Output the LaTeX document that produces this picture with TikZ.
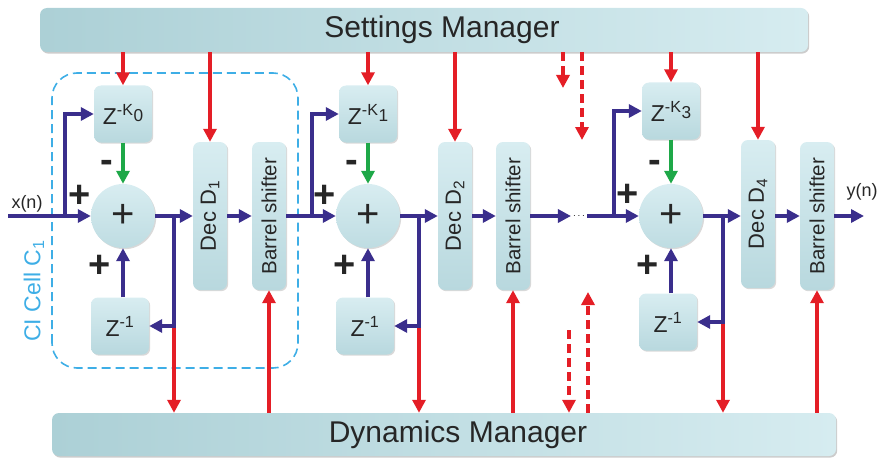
\documentclass[tikz,border=0pt]{standalone}
\usepackage{fontspec}
\setmainfont{Liberation Sans}
\usetikzlibrary{arrows.meta,shadows}
\definecolor{flowblue}{RGB}{58,46,140}
\definecolor{ctlred}{RGB}{228,30,38}
\definecolor{subgreen}{RGB}{30,168,72}
\definecolor{cellcyan}{RGB}{62,174,230}
\definecolor{boxtop}{RGB}{216,237,241}
\definecolor{boxbot}{RGB}{184,216,222}
\definecolor{mgrleft}{RGB}{172,208,214}
\definecolor{mgrright}{RGB}{214,236,240}
\definecolor{txt}{RGB}{38,38,38}
\newcommand{\zdel}[1]{Z\textsuperscript{-K}\raisebox{.1em}{\scalebox{.75}{#1}}}

\tikzset{
  blk/.style={rounded corners=7pt,top color=boxtop,bottom color=boxbot,text=txt,inner sep=0pt,
    drop shadow={shadow xshift=1.2pt,shadow yshift=-1.2pt,opacity=.3}},
  zbox/.style={blk,minimum width=58pt,minimum height=57pt,font=\fontsize{23}{26}\selectfont},
  decbox/.style={blk,minimum width=34pt,minimum height=148pt},
  mgr/.style={rounded corners=7pt,left color=mgrleft,right color=mgrright,text=txt,
    font=\fontsize{30}{32}\selectfont,
    drop shadow={shadow xshift=1.2pt,shadow yshift=-1.6pt,opacity=.4}},
  sum/.style={circle,minimum size=64pt,inner sep=0pt,top color=boxtop,bottom color=boxbot!80!boxtop,
    text=txt,font=\fontsize{40}{40}\selectfont,
    drop shadow={shadow xshift=1.2pt,shadow yshift=-1.2pt,opacity=.3}},
  sign/.style={inner sep=0pt,text=txt,font=\bfseries\fontsize{38}{38}\selectfont},
  flow/.style={draw=flowblue,line width=3.8pt},
  sub/.style={draw=subgreen,line width=3.8pt},
  ctl/.style={draw=ctlred,line width=3.6pt},
  lbl/.style={text=txt,font=\fontsize{18}{20}\selectfont}
}

\begin{document}
\begin{tikzpicture}[x=1pt,y=1pt,>={Triangle[length=13pt,width=13pt]}]
\useasboundingbox (0,0) rectangle (881,459);

% CI cell frame
\draw[cellcyan,line width=1.6pt,dash pattern=on 9pt off 5pt,rounded corners=25pt] (52,91) rectangle (298,386);
\node[rotate=90,text=cellcyan,font=\fontsize{23}{25}\selectfont] (ci1) at (34,168) {CI Cell C\textsubscript{1}};

% managers
\node[mgr,minimum width=768pt,minimum height=44pt] (sm) at (424,429) {\hspace*{36pt}Settings Manager};
\node[mgr,minimum width=784pt,minimum height=43pt] (dm) at (444,24.5) {\hspace*{28pt}Dynamics Manager};

% cell 1
\node[sum] (s1) at (123,243) {+};
\node[zbox] (zk0) at (123,345) {\zdel{0}};
\node[zbox] (zd1) at (120,133) {Z\textsuperscript{-1}};
\node[decbox] (dec1) at (210,243) {\rotatebox{90}{\fontsize{22}{24}\selectfont Dec D\textsubscript{1}}};
\node[decbox] (bs1) at (269,243) {\rotatebox{90}{\fontsize{20.5}{22}\selectfont Barrel shifter}};
\node[sign] (pa1) at ([shift={(-43,20)}]s1) {+};
\node[sign] (pm1) at ([shift={(-16,50)}]s1) {-};
\node[sign] (pb1) at ([shift={(-23,-50)}]s1) {+};

% cell 2
\node[sum] (s2) at (368,243) {+};
\node[zbox] (zk1) at (368,345) {\zdel{1}};
\node[zbox] (zd2) at (365,133) {Z\textsuperscript{-1}};
\node[decbox] (dec2) at (455,243) {\rotatebox{90}{\fontsize{22}{24}\selectfont Dec D\textsubscript{2}}};
\node[decbox] (bs2) at (513,243) {\rotatebox{90}{\fontsize{20.5}{22}\selectfont Barrel shifter}};
\node[sign] (pa2) at ([shift={(-43,20)}]s2) {+};
\node[sign] (pm2) at ([shift={(-16,50)}]s2) {-};
\node[sign] (pb2) at ([shift={(-23,-50)}]s2) {+};

% cell 4
\node[sum] (s3) at (671,243) {+};
\node[zbox] (zk3) at (671,348) {\zdel{3}};
\node[zbox] (zd3) at (668,137) {Z\textsuperscript{-1}};
\node[decbox] (dec4) at (758,245) {\rotatebox{90}{\fontsize{22}{24}\selectfont Dec D\textsubscript{4}}};
\node[decbox] (bs4) at (817,243) {\rotatebox{90}{\fontsize{20.5}{22}\selectfont Barrel shifter}};
\node[sign] (pa3) at ([shift={(-43,21)}]s3) {+};
\node[sign] (pm3) at ([shift={(-16,50)}]s3) {-};
\node[sign] (pb3) at ([shift={(-23,-50)}]s3) {+};

\node[inner sep=2pt] (ell) at (579,243) {$\cdots$};
\node[lbl] (xn) at (27,255) {x(n)};
\node[lbl] (yn) at (862,267) {y(n)};

\coordinate (xin) at (8,243);
\coordinate (in1) at (65,243);
\coordinate (fb1) at (174,243);
\coordinate (in2) at (312,243);
\coordinate (fb2) at (419,243);
\coordinate (in3) at (614,243);
\coordinate (fb3) at (723,243);
\coordinate (yout) at (864,243);
\coordinate (st1) at (563,371);
\coordinate (st2) at (582,319);
\coordinate (sb1) at (569,129);
\coordinate (sb2) at (588,167);

% settings -> cells
\draw[ctl,->] (sm.south -| zk0) -- (zk0);
\draw[ctl,->] (sm.south -| dec1) -- (dec1);
\draw[ctl,->] (sm.south -| zk1) -- (zk1);
\draw[ctl,->] (sm.south -| dec2) -- (dec2);
\draw[ctl,->] (sm.south -| zk3) -- (zk3);
\draw[ctl,->] (sm.south -| dec4) -- (dec4);
\draw[ctl,dash pattern=on 9pt off 5pt,->] (sm.south -| st1) -- (st1);
\draw[ctl,dash pattern=on 9pt off 5pt,->] (sm.south -| st2) -- (st2);

% cells <-> dynamics
\draw[ctl,->] (fb1 |- zd1) -- (fb1 |- dm.north);
\draw[ctl,->] (fb2 |- zd2) -- (fb2 |- dm.north);
\draw[ctl,->] (fb3 |- zd3) -- (fb3 |- dm.north);
\draw[ctl,->] (dm.north -| bs1) -- (bs1);
\draw[ctl,->] (dm.north -| bs2) -- (bs2);
\draw[ctl,->] (dm.north -| bs4) -- (bs4);
\draw[ctl,dash pattern=on 9pt off 5pt,->] (sb1) -- (sb1 |- dm.north);
\draw[ctl,dash pattern=on 9pt off 5pt,->] (dm.north -| sb2) -- (sb2);

% data path
\draw[flow,->] (xin) -- (s1);
\draw[flow,->] (in1) |- (zk0);
\draw[sub,->] (zk0) -- (s1);
\draw[flow,->] (zd1.north -| s1) -- (s1);
\draw[flow,->] (s1) -- (dec1);
\draw[flow,->] (fb1) |- (zd1);
\draw[flow,->] (dec1) -- (bs1);
\draw[flow,->] (bs1) -- (s2);
\draw[flow,->] (in2) |- (zk1);
\draw[sub,->] (zk1) -- (s2);
\draw[flow,->] (zd2.north -| s2) -- (s2);
\draw[flow,->] (s2) -- (dec2);
\draw[flow,->] (fb2) |- (zd2);
\draw[flow,->] (dec2) -- (bs2);
\draw[flow,->] (bs2) -- (ell.west);
\draw[flow] (ell.east) -- (in3);
\draw[flow,->] (in3) -- (s3);
\draw[flow,->] (in3) |- (zk3);
\draw[sub,->] (zk3) -- (s3);
\draw[flow,->] (zd3.north -| s3) -- (s3);
\draw[flow,->] (s3) -- (s3 -| dec4.west);
\draw[flow,->] (fb3) |- (zd3);
\draw[flow,->] (dec4.east |- bs4) -- (bs4);
\draw[flow,->] (bs4) -- (yout);
\end{tikzpicture}
\end{document}
